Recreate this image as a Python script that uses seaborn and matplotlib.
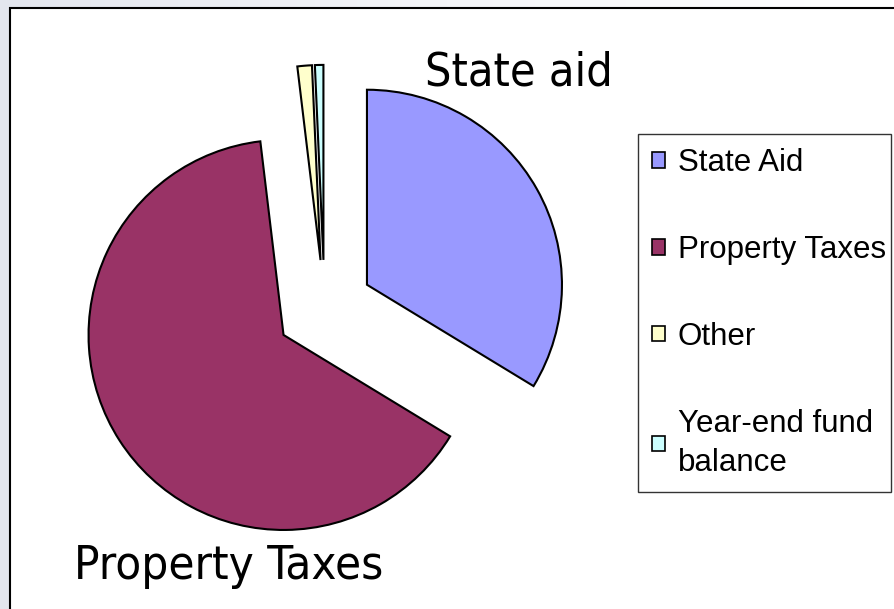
import numpy as np
import matplotlib
matplotlib.use("Agg")
import matplotlib.pyplot as plt
import seaborn as sns
from matplotlib.patches import Rectangle, Patch
from matplotlib.colors import LinearSegmentedColormap

categories = ["State Aid", "Property Taxes", "Other", "Year-end fund\nbalance"]
shares = [33.7, 64.4, 1.2, 0.7]
slice_colors = ["#9999FF", "#993366", "#FFFFCC", "#CCFFFF"]
slice_labels = ["State aid", "Property Taxes"]

sns.set_style("white")

W, H = 895, 609
fig = plt.figure(figsize=(W / 100, H / 100), dpi=100)

# soft gradient behind the chart panel
bg = fig.add_axes([0, 0, 1, 1])
grad = np.linspace(0, 1, 256).reshape(1, -1)
cmap = LinearSegmentedColormap.from_list("bg", ["#e3e6ee", "#f4f5f8", "#ffffff"])
bg.imshow(grad, aspect="auto", cmap=cmap, extent=[0, 1, 0, 1])
bg.axis("off")

ax = fig.add_axes([0, 0, 1, 1])
ax.set_facecolor("none")
ax.add_patch(Rectangle((10, -10), W, H - 8 + 10, facecolor="white",
                       edgecolor="black", linewidth=1.5, zorder=0))

# explode is in data units here (pixels), radius too
wedges, _ = ax.pie(shares, colors=slice_colors, startangle=90, counterclock=False,
                   explode=[48.7] * len(shares), radius=195, center=(324.5, H - 308.6),
                   wedgeprops=dict(edgecolor="black", linewidth=1.5), frame=True)
for w in wedges:
    w.set_zorder(2)

ax.set_xlim(0, W)
ax.set_ylim(0, H)
ax.axis("off")

ax.text(425, H - 86, slice_labels[0], fontsize=33.5, family="DejaVu Sans",
        fontstretch="condensed", va="baseline", ha="left", color="black")
ax.text(74, H - 579, slice_labels[1], fontsize=34, family="DejaVu Sans",
        fontstretch="condensed", va="baseline", ha="left", color="black")

handles = [Patch(facecolor=c, edgecolor="black", linewidth=1.2) for c in slice_colors]
leg = ax.legend(handles, categories, loc="upper left",
                bbox_to_anchor=(638 / W, 1 - 134 / H, 253 / W, 0.0001),
                bbox_transform=fig.transFigure, mode="expand", borderaxespad=0,
                prop={"family": "Liberation Sans", "size": 22.5},
                handlelength=0.4, handleheight=0.4, handletextpad=0.42,
                borderpad=0.45, labelspacing=1.82, frameon=True, fancybox=False)
leg.get_frame().set_edgecolor("black")
leg.get_frame().set_linewidth(1.0)
for t in leg.get_texts():
    t.set_color("black")
    t.set_linespacing(1.4)

fig.savefig("out.png", dpi=100)
